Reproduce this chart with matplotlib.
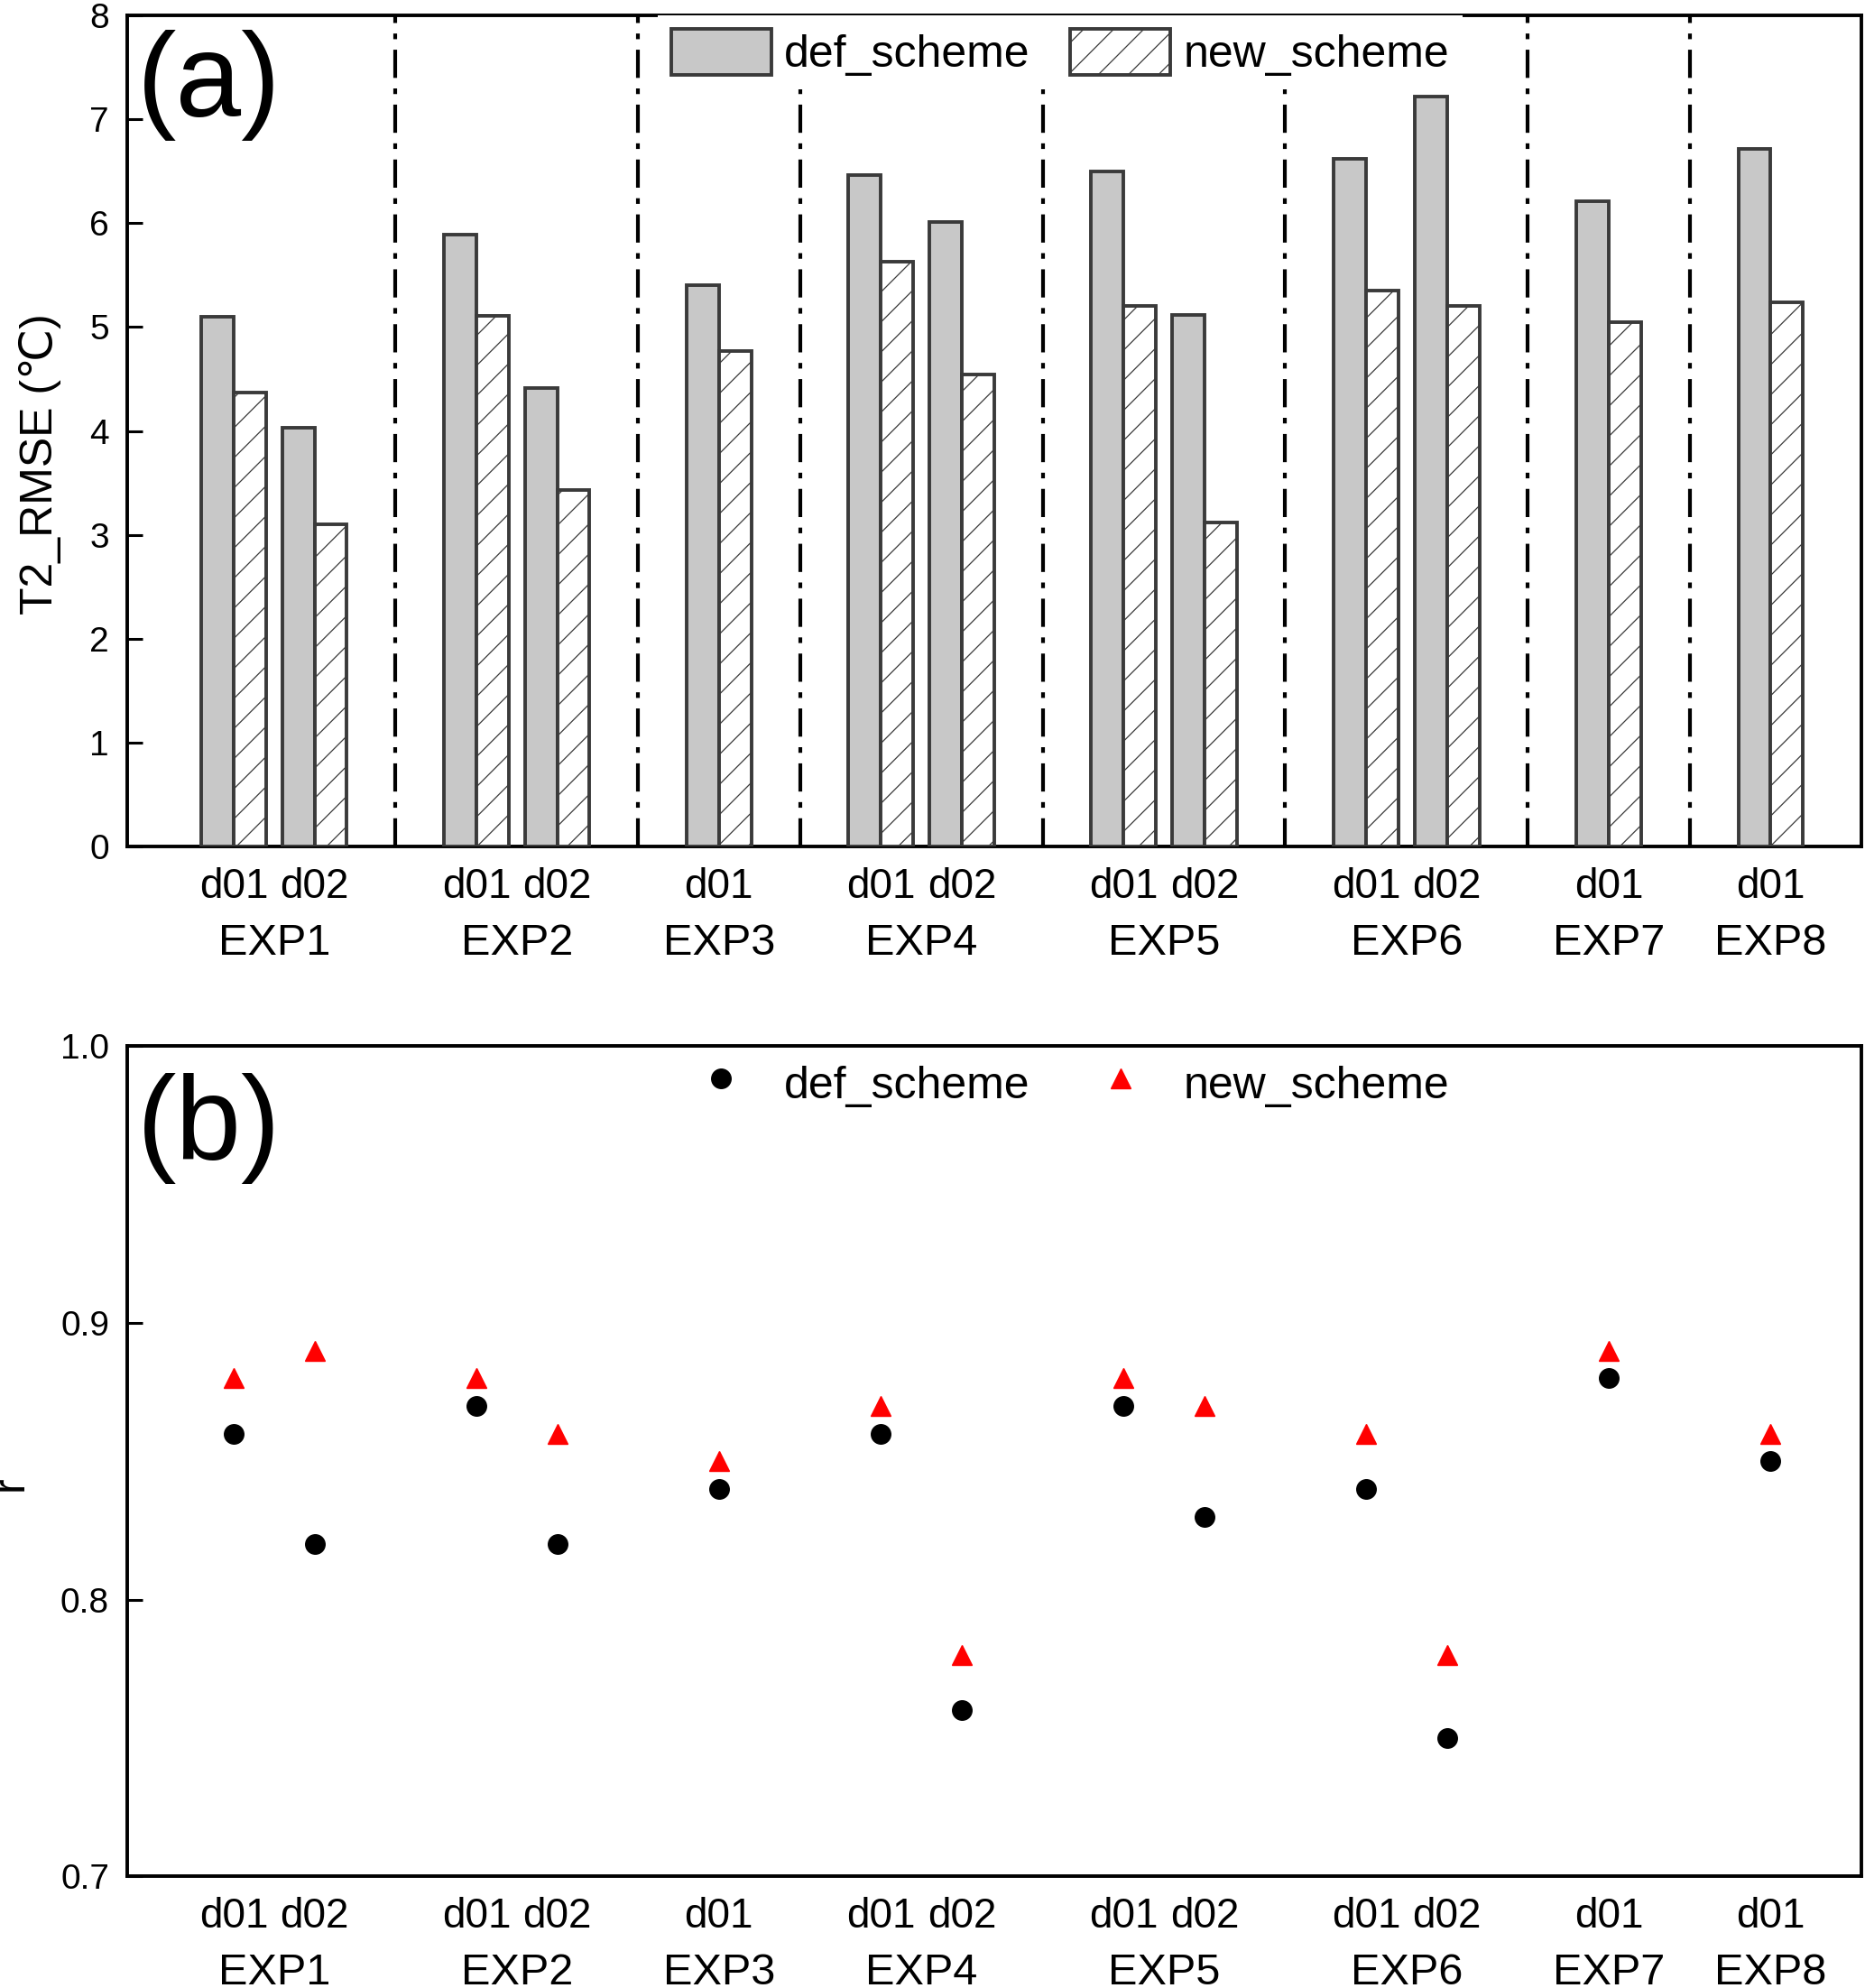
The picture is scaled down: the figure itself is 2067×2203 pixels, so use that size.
import numpy as np
import matplotlib.pyplot as plt
from matplotlib.lines import Line2D
from matplotlib.patches import Patch

plt.rcParams['font.family'] = ['Liberation Sans', 'DejaVu Sans']
plt.rcParams['hatch.linewidth'] = 0.9

# x positions of the domains (gaps between experiments)
pos = [1, 2, 4, 5, 7, 9, 10, 12, 13, 15, 16, 18, 20]
domains = ['d01', 'd02', 'd01', 'd02', 'd01', 'd01', 'd02', 'd01', 'd02',
           'd01', 'd02', 'd01', 'd01']
exps = ['EXP1', 'EXP2', 'EXP3', 'EXP4', 'EXP5', 'EXP6', 'EXP7', 'EXP8']
exp_centers = [1.5, 4.5, 7, 9.5, 12.5, 15.5, 18, 20]
separators = [3, 6, 8, 11, 14, 17, 19]

# T2 RMSE
rmse_def = [5.10, 4.03, 5.89, 4.41, 5.40, 6.46, 6.01, 6.50, 5.12, 6.62, 7.22, 6.21, 6.71]
rmse_new = [4.37, 3.10, 5.11, 3.43, 4.77, 5.63, 4.54, 5.20, 3.12, 5.35, 5.20, 5.05, 5.24]

# correlation r
r_def = [0.86, 0.82, 0.87, 0.82, 0.84, 0.86, 0.76, 0.87, 0.83, 0.84, 0.75, 0.88, 0.85]
r_new = [0.88, 0.89, 0.88, 0.86, 0.85, 0.87, 0.78, 0.88, 0.87, 0.86, 0.78, 0.89, 0.86]

fig = plt.figure(figsize=(20.67, 22.03), dpi=100)
ax1 = fig.add_axes([0.068, 0.574, 0.930, 0.4184])
ax2 = fig.add_axes([0.068, 0.0561, 0.930, 0.4177])

x = np.array(pos)
w = 0.4
edge = '#3a3a3a'
ax1.bar(x - w / 2, rmse_def, w, color='#c8c8c8', edgecolor=edge, linewidth=2.8, zorder=3)
ax1.bar(x + w / 2, rmse_new, w, color='white', edgecolor=edge, linewidth=2.8,
        hatch='/', zorder=3)
for s in separators:
    ax1.axvline(s, color='black', lw=3, ls=(0, (7.5, 2.8, 1.5, 2.8)), zorder=2)

ax2.plot(x, r_def, 'o', color='black', ms=15.5, zorder=3)
ax2.plot(x, r_new, '^', color='red', ms=16, zorder=3)

ax1.set_ylim(0, 8)
ax1.set_yticks(range(0, 9))
ax2.set_ylim(0.7, 1.0)
ax2.set_yticks([0.7, 0.8, 0.9, 1.0])
ax2.set_yticklabels(['0.7', '0.8', '0.9', '1.0'])

for ax in (ax1, ax2):
    ax.set_xlim(-0.32, 21.12)
    ax.set_xticks(pos)
    ax.set_xticklabels(domains)
    ax.tick_params(axis='x', length=0, labelsize=33, pad=16)
    ax.tick_params(axis='y', direction='in', length=12, width=2.2, labelsize=28, pad=14)
    for sp in ax.spines.values():
        sp.set_linewidth(2.8)
    for c, e in zip(exp_centers, exps):
        ax.text(c, -0.116, e, transform=ax.get_xaxis_transform(), ha='center',
                va='center', fontsize=35, clip_on=False)

ax1.set_ylabel('T2_RMSE (℃)', fontsize=36)
ax1.yaxis.set_label_coords(-0.038, 0.46)
ax2.set_ylabel('r', fontsize=36)
ax2.yaxis.set_label_coords(-0.055, 0.473)

ax1.text(0.006, 0.982, '(a)', transform=ax1.transAxes, fontsize=94, va='top', ha='left')
ax2.text(0.006, 0.968, '(b)', transform=ax2.transAxes, fontsize=94, va='top', ha='left')

h1 = [Patch(facecolor='#c8c8c8', edgecolor=edge, linewidth=2.8),
      Patch(facecolor='white', edgecolor=edge, linewidth=2.8, hatch='/')]
leg1 = ax1.legend(h1, ['def_scheme', 'new_scheme'], ncol=2, loc='upper left',
                  bbox_to_anchor=(0.306, 1.0), fontsize=36, frameon=True,
                  fancybox=False, edgecolor='none', facecolor='white', framealpha=1,
                  handlelength=2.22, handleheight=1.2, handletextpad=0.28,
                  columnspacing=0.9, borderpad=0.3, borderaxespad=0.0)
leg1.set_zorder(5)

h2 = [Line2D([], [], marker='o', color='black', ls='none', ms=15.5),
      Line2D([], [], marker='^', color='red', ls='none', ms=16)]
ax2.legend(h2, ['def_scheme', 'new_scheme'], ncol=2, loc='upper left',
           bbox_to_anchor=(0.306, 1.0), fontsize=36, frameon=False,
           handlelength=2.22, handleheight=1.2, handletextpad=0.28,
           columnspacing=0.9, borderpad=0.3, borderaxespad=0.0)

fig.savefig('out.png', dpi=100)
